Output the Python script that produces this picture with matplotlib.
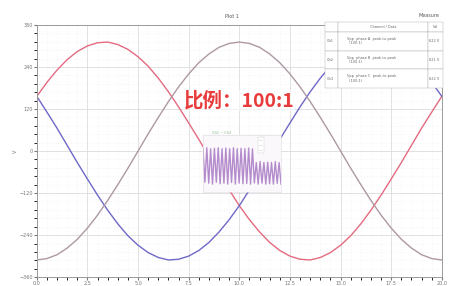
import numpy as np
import matplotlib
matplotlib.use('Agg')
import matplotlib.pyplot as plt
from matplotlib.ticker import MultipleLocator, AutoMinorLocator

# time axis (ms) and three phase voltages
t_ms = [i * 0.5 for i in range(41)]
phase_a = [156, 196, 231, 261, 284, 300, 309, 311, 304, 290, 269, 242, 208, 169, 126, 80, 33,
           -16, -65, -111, -156, -196, -231, -261, -284, -300, -309, -311, -304, -290, -269,
           -242, -208, -169, -126, -80, -33, 16, 65, 111, 156]
phase_b = [156, 111, 65, 16, -33, -80, -126, -169, -208, -242, -269, -290, -304, -311, -309,
           -300, -284, -261, -231, -196, -156, -111, -65, -16, 33, 80, 126, 169, 208, 242, 269,
           290, 304, 311, 309, 300, 284, 261, 231, 196, 156]
phase_c = [-311, -307, -296, -277, -252, -220, -183, -141, -96, -49, 0, 49, 96, 141, 183, 220,
           252, 277, 296, 307, 311, 307, 296, 277, 252, 220, 183, 141, 96, 49, 0, -49, -96,
           -141, -183, -220, -252, -277, -296, -307, -311]
x_ticks = [0, 2.5, 5, 7.5, 10, 12.5, 15, 17.5, 20]
y_ticks = [-360, -240, -120, 0, 120, 240, 360]

# small scope snapshot in the middle
ripple = [0.9, -0.8, 0.95, -0.85, 0.9, -0.9, 0.92, -0.8, 0.95, -0.88, 0.9, -0.85, 0.93, -0.9,
          0.9, -0.82, 0.95, -0.9, 0.9, -0.85, 0.92, -0.88, 0.9, -0.86, 0.94, -0.9, 0.9, -0.84,
          0.2, -0.9, 0.25, -0.85, 0.2, -0.9, 0.22, -0.88, 0.2, -0.9, 0.24, -0.86, 0.2, -0.9]

# measurement table
tbl_head = ['', 'Channel / Data', 'Val']
tbl_rows = [['Ch1', 'Vpp  phase A  peak-to-peak\n  (100:1)', '622 V'],
            ['Ch2', 'Vpp  phase B  peak-to-peak\n  (100:1)', '621 V'],
            ['Ch3', 'Vpp  phase C  peak-to-peak\n  (100:1)', '622 V']]

fig = plt.figure(figsize=(4.49, 2.86), dpi=100)
ax = fig.add_axes([0.082, 0.031, 0.902, 0.882])
ax.plot(t_ms, phase_a, color='#e46a80', lw=1.0)
ax.plot(t_ms, phase_b, color='#6e68c8', lw=1.0)
ax.plot(t_ms, phase_c, color='#ad98a4', lw=1.0)
ax.set_xlim(0, 20)
ax.set_ylim(-360, 360)
ax.set_xticks(x_ticks)
ax.set_yticks(y_ticks)
ax.xaxis.set_minor_locator(AutoMinorLocator(5))
ax.yaxis.set_minor_locator(AutoMinorLocator(5))
ax.grid(which='major', color='#dcdcdc', lw=0.6)
ax.grid(which='minor', color='#eeeeee', lw=0.4, ls=':')
ax.tick_params(labelsize=3.5, colors='#777777', length=2, pad=1)
for s in ax.spines.values():
    s.set_color('#999999')
    s.set_linewidth(0.7)
ax.set_ylabel('V', fontsize=3.5, color='#777777', labelpad=1)
fig.text(0.517, 0.944, 'Plot 1', fontsize=3.5, ha='center', va='center', color='#555555')
fig.text(0.955, 0.947, 'Measure', fontsize=3.5, ha='center', va='center', color='#555555')

ax.text(0.50, 0.70, '比例：100:1', transform=ax.transAxes, fontsize=14, color='#e83c3c',
        ha='center', va='center', family=['Noto Sans CJK SC', 'DejaVu Sans'],
        fontweight='bold',
        bbox=dict(facecolor='white', edgecolor='none', alpha=0.6, pad=0.5))

# scope snapshot inset
ins = fig.add_axes([203 / 449, (286 - 192) / 286, 78 / 449, 57 / 286])
ins.set_facecolor('#fbf8fc')
ins.plot(range(len(ripple)), ripple, color='#b48ccc', lw=1.0)
ins.set_xlim(0, len(ripple) - 1)
ins.set_ylim(-1.3, 1.6)
ins.set_xticks([])
ins.set_yticks([])
for s in ins.spines.values():
    s.set_color('#e0d8e4')
    s.set_linewidth(0.4)
ins.text(0.12, 1.02, 'Ch1 ~ Ch3', transform=ins.transAxes, fontsize=2.5, color='#80b080')
ins.text(0.72, 0.72, '—\n—\n—', transform=ins.transAxes, fontsize=2.5, color='#888888',
         bbox=dict(facecolor='white', edgecolor='#cccccc', lw=0.3, pad=1))

# table in the upper right
tax = fig.add_axes([0.724, 0.692, 0.263, 0.231])
tax.axis('off')
tb = tax.table(cellText=tbl_rows, colLabels=tbl_head, colWidths=[0.11, 0.76, 0.13],
               loc='center', bbox=[0, 0, 1, 1], cellLoc='left')
tb.auto_set_font_size(False)
tb.set_fontsize(2.5)
for (r, c), cell in tb.get_celld().items():
    cell.set_linewidth(0.3)
    cell.set_edgecolor('#aaaaaa')
    cell.get_text().set_color('#666666')
    if r == 0:
        cell.get_text().set_ha('center')
for c in range(3):
    tb.get_celld()[(0, c)].set_height(0.13)

fig.savefig('out.png', dpi=100)
